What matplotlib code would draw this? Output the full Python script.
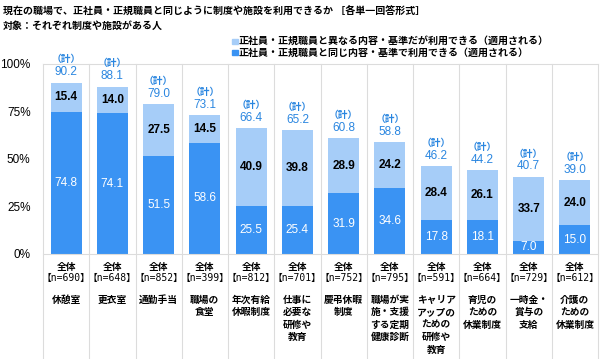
import matplotlib.pyplot as plt
import matplotlib.transforms as mtransforms
import numpy as np

plt.rcParams['font.family'] = ['Noto Sans CJK JP', 'DejaVu Sans']

categories = ["休憩室", "更衣室", "通勤手当", "職場の\n食堂", "年次有給\n休暇制度",
              "仕事に\n必要な\n研修や\n教育", "慶弔休暇\n制度", "職場が実\n施・支援\nする定期\n健康診断",
              "キャリア\nアップの\nための\n研修や\n教育", "育児の\nための\n休業制度",
              "一時金・\n賞与の\n支給", "介護の\nための\n休業制度"]
n_values = [690, 648, 852, 399, 812, 701, 752, 795, 591, 664, 729, 612]
same = [74.8, 74.1, 51.5, 58.6, 25.5, 25.4, 31.9, 34.6, 17.8, 18.1, 7.0, 15.0]
different = [15.4, 14.0, 27.5, 14.5, 40.9, 39.8, 28.9, 24.2, 28.4, 26.1, 33.7, 24.0]
totals = [90.2, 88.1, 79.0, 73.1, 66.4, 65.2, 60.8, 58.8, 46.2, 44.2, 40.7, 39.0]
yticks = [0, 25, 50, 75, 100]

dark = "#3a93f3"
light = "#a6cdf8"
blue_txt = "#2a86e0"
sep = "#dcdcdc"
numfont = ['Liberation Sans', 'Noto Sans CJK JP']
monofont = ['DejaVu Sans Mono', 'Noto Sans CJK JP']

fig = plt.figure(figsize=(6, 3.59), dpi=100)
ax = fig.add_axes([0.0717, 0.2925, 0.925, 0.5295])
x = np.arange(len(categories))

ax.bar(x, same, width=0.67, color=dark, zorder=2)
ax.bar(x, different, bottom=same, width=0.67, color=light, zorder=2)

for i in x:
    ax.text(i, same[i] / 2, f"{same[i]:.1f}", ha='center', va='center',
            color='white', fontsize=8.5, family=numfont)
    ax.text(i, same[i] + different[i] / 2, f"{different[i]:.1f}", ha='center',
            va='center', color='black', fontsize=8.5, fontweight='bold', family=numfont)
    ax.text(i, totals[i] + 2.2, f"{totals[i]:.1f}", ha='center', va='bottom',
            color=blue_txt, fontsize=8.5, family=numfont)
    ax.text(i, totals[i] + 9.5, "（計）", ha='center', va='bottom',
            color=blue_txt, fontsize=7, fontweight='bold')

ax.set_xlim(-0.5, len(categories) - 0.5)
ax.set_ylim(0, 100)
ax.set_yticks(yticks)
ax.set_yticklabels([f"{t}%" for t in yticks], fontsize=8.5, family=numfont)
ax.set_xticks([])
ax.tick_params(axis='y', length=0, pad=9)
for s in ['left', 'right', 'top']:
    ax.spines[s].set_visible(False)
ax.spines['bottom'].set_color(sep)

# separators running down through the label area
trans = mtransforms.blended_transform_factory(ax.transData, ax.transAxes)
for b in np.arange(-0.5, len(categories), 1.0):
    ax.plot([b, b], [1, -0.56], transform=trans, color=sep, lw=0.8,
            clip_on=False, zorder=1)
ax.plot([-0.5, len(categories) - 0.5], [1, 1], transform=trans, color=sep,
        lw=0.8, clip_on=False, zorder=1)

for i in x:
    ax.text(i, -0.04, "全体", transform=trans, ha='center', va='top',
            fontsize=7, fontweight='bold')
    ax.text(i, -0.1, f"【n={n_values[i]}】", transform=trans, ha='center',
            va='top', fontsize=7, family=monofont)
    ax.text(i, -0.215, categories[i], transform=trans, ha='center', va='top',
            fontsize=7, fontweight='bold', linespacing=1.3)

fig.text(0.005, 0.985, "現在の職場で、正社員・正規職員と同じように制度や施設を利用できるか ［各単一回答形式］",
         ha='left', va='top', fontsize=7.2, fontweight='bold')
fig.text(0.005, 0.943, "対象：それぞれ制度や施設がある人",
         ha='left', va='top', fontsize=7.2, fontweight='bold')

fig.patches.append(plt.Rectangle((0.387, 0.877), 0.009, 0.015, color=light,
                                 transform=fig.transFigure))
fig.text(0.398, 0.885, "正社員・正規職員と異なる内容・基準だが利用できる（適用される）",
         ha='left', va='center', fontsize=7.2, fontweight='bold')
fig.patches.append(plt.Rectangle((0.387, 0.846), 0.009, 0.015, color=dark,
                                 transform=fig.transFigure))
fig.text(0.398, 0.854, "正社員・正規職員と同じ内容・基準で利用できる（適用される）",
         ha='left', va='center', fontsize=7.2, fontweight='bold')

fig.savefig('out.png', dpi=100)
